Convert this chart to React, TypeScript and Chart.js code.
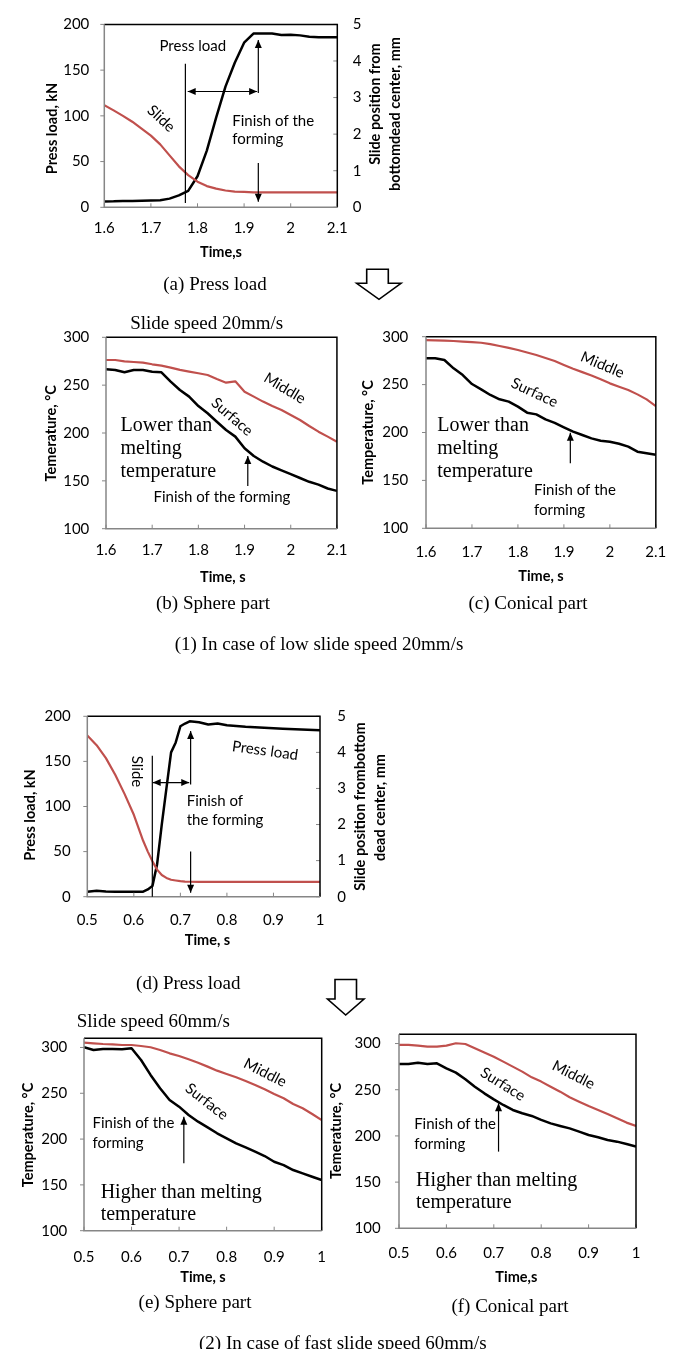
import React, { useEffect, useRef } from "react";
import { Chart, registerables } from "chart.js";

Chart.register(...registerables);

const RED = "#C0504D";
const SANS = "Lato, 'Open Sans', sans-serif";
const SERIF = "'Liberation Serif', 'Times New Roman', serif";

// ---------- data ----------
const timeLow = [1.6, 1.62, 1.64, 1.66, 1.68, 1.7, 1.72, 1.74, 1.76, 1.78, 1.8, 1.82, 1.84, 1.86, 1.88, 1.9, 1.92, 1.94, 1.96, 1.98, 2.0, 2.02, 2.04, 2.06, 2.08, 2.1];
const pressLoadA = [6.4, 6.5, 7.0, 6.8, 7.2, 7.5, 7.8, 9.5, 13, 18, 34, 62, 98, 132, 158, 180, 190, 190, 190, 188.5, 188.8, 188, 186.5, 186, 186, 186];
const slideA = [2.79, 2.65, 2.5, 2.34, 2.15, 1.96, 1.72, 1.42, 1.12, 0.88, 0.7, 0.58, 0.51, 0.46, 0.43, 0.42, 0.41, 0.41, 0.41, 0.41, 0.41, 0.41, 0.41, 0.41, 0.41, 0.41];
const middleB = [276.3, 276.3, 274.9, 274.2, 273.5, 271.8, 270.4, 268.3, 265.9, 264.1, 262.4, 260.6, 256.4, 252.6, 254.0, 243.2, 238.0, 232.8, 228.2, 224.0, 218.8, 213.6, 207.3, 201.4, 196.2, 190.9];
const surfaceB = [266.6, 265.9, 263.4, 265.9, 265.9, 264.1, 263.4, 253.7, 244.9, 238.0, 228.2, 220.6, 211.8, 203.1, 196.2, 184.0, 176, 170, 165, 161, 157, 153, 149, 146, 142, 139.5];
const middleC = [296.5, 296.2, 295.8, 295.5, 294.8, 294.3, 293.7, 292.2, 290.3, 288.3, 286.1, 283.5, 280.9, 277.8, 274.6, 270.5, 266.6, 263, 259.5, 255.5, 251.3, 247.8, 244.3, 239.8, 234.6, 227.5];
const surfaceC = [277.4, 277.4, 275.7, 267, 260, 250.6, 245, 239.2, 234.7, 232.2, 227, 220.7, 218.9, 213.7, 210.1, 205.4, 200.9, 197.4, 193.9, 191.4, 190.4, 188.3, 185.2, 180, 178.3, 176.7];

const timeD = [0.5, 0.52, 0.54, 0.56, 0.58, 0.6, 0.62, 0.63, 0.64, 0.65, 0.66, 0.67, 0.68, 0.69, 0.7, 0.71, 0.72, 0.74, 0.76, 0.78, 0.8, 0.84, 0.88, 0.92, 0.96, 1.0];
const pressLoadD = [5.5, 6.5, 5.8, 5.5, 5.5, 5.5, 5.5, 8, 12, 36, 80, 120, 160, 171, 189, 192, 194.5, 193.5, 191, 192, 190, 188.4, 187.3, 186.2, 185.5, 184.4];
const slideD = [4.47, 4.2, 3.84, 3.38, 2.85, 2.27, 1.55, 1.25, 0.98, 0.75, 0.6, 0.52, 0.47, 0.45, 0.43, 0.42, 0.415, 0.41, 0.41, 0.41, 0.41, 0.41, 0.41, 0.41, 0.41, 0.41];

const timeHigh = [0.5, 0.52, 0.54, 0.56, 0.58, 0.6, 0.62, 0.64, 0.66, 0.68, 0.7, 0.72, 0.74, 0.76, 0.78, 0.8, 0.82, 0.84, 0.86, 0.88, 0.9, 0.92, 0.94, 0.96, 0.98, 1.0];
const middleE = [305.3, 304.5, 303.8, 303.4, 302.7, 302.7, 301.6, 300.2, 297.3, 293.6, 290.7, 287.1, 283.4, 279.1, 274.7, 271.1, 267.4, 263.4, 259.1, 254.3, 249.2, 244.5, 238.3, 233.6, 227.4, 220.8];
const surfaceE = [300.2, 297.3, 298.4, 298.4, 298.0, 299.1, 286.3, 270, 255.4, 242.7, 235.4, 226.3, 219, 212.8, 206.3, 200.8, 195.3, 190.9, 186.2, 181.5, 175.3, 171.6, 166.2, 162.6, 158.9, 155.3];
const middleF = [298.5, 298.5, 297.7, 296.6, 296.6, 297.7, 300.3, 299.5, 294.8, 290.2, 285.8, 280.4, 275, 269.6, 263.4, 258.8, 253.3, 247.9, 241.8, 237.1, 232.4, 228.1, 223.8, 219.1, 214.4, 210.8];
const surfaceF = [277.9, 277.9, 279.3, 277.9, 278.6, 273.2, 268.5, 261.3, 253.3, 246.1, 239.6, 233.5, 228.1, 224.5, 221.6, 217.3, 213.6, 210.8, 208.2, 204.6, 201, 198.5, 195.6, 193.8, 191.3, 188.4];

const xTicksLow = [1.6, 1.7, 1.8, 1.9, 2.0, 2.1];
const xTicksHigh = [0.5, 0.6, 0.7, 0.8, 0.9, 1.0];
const loadTicks = [0, 50, 100, 150, 200];
const slideTicks = [0, 1, 2, 3, 4, 5];
const tempTicks = [100, 150, 200, 250, 300];

const zip = (xs: number[], ys: number[]) => xs.map((x, i) => ({ x, y: ys[i] }));

// ---------- specs ----------
type TextItem = { x: number; y: number; t: string; rot?: number; align?: CanvasTextAlign; serif?: boolean; axis?: string };
type LineItem = { x1: number; y1: number; x2: number; y2: number; head: "none" | "end" | "both"; axis?: string };
type Title = { text: string; cx: number; cy: number };
type Spec = {
  x: number; y: number; w: number; h: number;
  plot: { l: number; t: number; r: number; b: number };
  xMin: number; xMax: number; xTicks: number[];
  yMin: number; yMax: number; yTicks: number[];
  y1?: { min: number; max: number; ticks: number[]; pad: number };
  xPad: number; yPad: number;
  datasets: { data: { x: number; y: number }[]; color: string; width: number; axis: string }[];
  leftTitle: Title; rightTitles?: Title[]; bottomTitle: Title;
  texts: TextItem[]; lines: LineItem[];
};

const specA: Spec = {
  x: 0, y: 0, w: 420, h: 270,
  plot: { l: 104.3, t: 19.3, r: 337.3, b: 207.3 },
  xMin: 1.6, xMax: 2.1, xTicks: xTicksLow,
  yMin: 0, yMax: 200, yTicks: loadTicks,
  y1: { min: 0, max: 5, ticks: slideTicks, pad: 15.4 },
  xPad: 12, yPad: 15,
  datasets: [
    { data: zip(timeLow, slideA), color: RED, width: 2.2, axis: "y1" },
    { data: zip(timeLow, pressLoadA), color: "#000", width: 2.5, axis: "y" },
  ],
  leftTitle: { text: "Press load, kN", cx: 52.5, cy: 128.5 },
  rightTitles: [
    { text: "Slide position from", cx: 375, cy: 104 },
    { text: "bottomdead center, mm", cx: 395, cy: 114 },
  ],
  bottomTitle: { text: "Time,s", cx: 221, cy: 252 },
  texts: [
    { x: 1.79, y: 176, t: "Press load" },
    { x: 1.722, y: 97, t: "Slide", rot: 43 },
    { x: 1.8747, y: 94.7, t: "Finish of the", align: "left" },
    { x: 1.8747, y: 74.5, t: "forming", align: "left" },
  ],
  lines: [
    { x1: 1.774, y1: 4.6, x2: 1.774, y2: 157, head: "none" },
    { x1: 1.779, y1: 126.6, x2: 1.928, y2: 126.6, head: "both" },
    { x1: 1.9305, y1: 125, x2: 1.9305, y2: 183, head: "end" },
    { x1: 1.9305, y1: 48.5, x2: 1.9305, y2: 6, head: "end" },
  ],
};

const specB: Spec = {
  x: 0, y: 300, w: 360, h: 290,
  plot: { l: 106, t: 337.3, r: 339.3, b: 528.7 },
  xMin: 1.6, xMax: 2.1, xTicks: xTicksLow,
  yMin: 100, yMax: 300, yTicks: tempTicks,
  xPad: 12.6, yPad: 16.7,
  datasets: [
    { data: zip(timeLow, middleB), color: RED, width: 2.2, axis: "y" },
    { data: zip(timeLow, surfaceB), color: "#000", width: 2.5, axis: "y" },
  ],
  leftTitle: { text: "Temerature, °C", cx: 51, cy: 433.3 },
  bottomTitle: { text: "Time, s", cx: 222.8, cy: 577.7 },
  texts: [
    { x: 1.987, y: 246.7, t: "Middle", rot: 31 },
    { x: 1.873, y: 217, t: "Surface", rot: 41 },
    { x: 1.6315, y: 207.3, t: "Lower than", align: "left", serif: true },
    { x: 1.6315, y: 184, t: "melting", align: "left", serif: true },
    { x: 1.6315, y: 159.6, t: "temperature", align: "left", serif: true },
    { x: 1.851, y: 133.4, t: "Finish of the forming" },
  ],
  lines: [{ x1: 1.907, y1: 144.6, x2: 1.907, y2: 176, head: "end" }],
};

const specC: Spec = {
  x: 340, y: 300, w: 341, h: 290,
  plot: { l: 426, t: 336.7, r: 656.7, b: 528.3 },
  xMin: 1.6, xMax: 2.1, xTicks: xTicksLow,
  yMin: 100, yMax: 300, yTicks: tempTicks,
  xPad: 14.7, yPad: 17.7,
  datasets: [
    { data: zip(timeLow, middleC), color: RED, width: 2.2, axis: "y" },
    { data: zip(timeLow, surfaceC), color: "#000", width: 2.5, axis: "y" },
  ],
  leftTitle: { text: "Temperature, °C", cx: 368.3, cy: 432.5 },
  bottomTitle: { text: "Time, s", cx: 541, cy: 576.7 },
  texts: [
    { x: 1.984, y: 270.5, t: "Middle", rot: 23 },
    { x: 1.836, y: 241.6, t: "Surface", rot: 25 },
    { x: 1.6245, y: 206.8, t: "Lower than", align: "left", serif: true },
    { x: 1.6245, y: 183.5, t: "melting", align: "left", serif: true },
    { x: 1.6245, y: 159.2, t: "temperature", align: "left", serif: true },
    { x: 1.835, y: 139.6, t: "Finish of the", align: "left" },
    { x: 1.835, y: 119, t: "forming", align: "left" },
  ],
  lines: [{ x1: 1.914, y1: 167.9, x2: 1.914, y2: 199.8, head: "end" }],
};

const specD: Spec = {
  x: 0, y: 690, w: 420, h: 270,
  plot: { l: 87.3, t: 713.3, r: 320, b: 896.7 },
  xMin: 0.5, xMax: 1.0, xTicks: xTicksHigh,
  yMin: 0, yMax: 200, yTicks: loadTicks,
  y1: { min: 0, max: 5, ticks: slideTicks, pad: 17.3 },
  xPad: 14.6, yPad: 16.6,
  datasets: [
    { data: zip(timeD, slideD), color: RED, width: 2.2, axis: "y1" },
    { data: zip(timeD, pressLoadD), color: "#000", width: 2.5, axis: "y" },
  ],
  leftTitle: { text: "Press load, kN", cx: 30, cy: 815 },
  rightTitles: [
    { text: "Slide position frombottom", cx: 360, cy: 806.5 },
    { text: "dead center, mm", cx: 380, cy: 807.5 },
  ],
  bottomTitle: { text: "Time, s", cx: 207.5, cy: 940 },
  texts: [
    { x: 0.606, y: 138.8, t: "Slide", rot: 90 },
    { x: 0.882, y: 161.8, t: "Press load", rot: 8 },
    { x: 0.7136, y: 106.2, t: "Finish of", align: "left" },
    { x: 0.7136, y: 84.4, t: "the forming", align: "left" },
  ],
  lines: [
    { x1: 0.6397, y1: 0, x2: 0.6397, y2: 156.4, head: "none" },
    { x1: 0.6405, y1: 126.5, x2: 0.719, y2: 126.5, head: "both" },
    { x1: 0.722, y1: 124.3, x2: 0.722, y2: 183.6, head: "end" },
    { x1: 0.722, y1: 50.2, x2: 0.722, y2: 4.4, head: "end" },
  ],
};

const specE: Spec = {
  x: 0, y: 1000, w: 345, h: 290,
  plot: { l: 84, t: 1038.3, r: 321.7, b: 1230.7 },
  xMin: 0.5, xMax: 1.0, xTicks: xTicksHigh,
  yMin: 100, yMax: 310, yTicks: tempTicks,
  xPad: 17.3, yPad: 16.7,
  datasets: [
    { data: zip(timeHigh, middleE), color: RED, width: 2.2, axis: "y" },
    { data: zip(timeHigh, surfaceE), color: "#000", width: 2.5, axis: "y" },
  ],
  leftTitle: { text: "Temperature, °C", cx: 28.3, cy: 1135 },
  bottomTitle: { text: "Time, s", cx: 203, cy: 1277.3 },
  texts: [
    { x: 0.881, y: 272.4, t: "Middle", rot: 27 },
    { x: 0.758, y: 240.8, t: "Surface", rot: 38 },
    { x: 0.518, y: 217.2, t: "Finish of the", align: "left" },
    { x: 0.518, y: 195.4, t: "forming", align: "left" },
    { x: 0.535, y: 141.9, t: "Higher than melting", align: "left", serif: true },
    { x: 0.535, y: 117, t: "temperature", align: "left", serif: true },
  ],
  lines: [{ x1: 0.71, y1: 173.5, x2: 0.71, y2: 224.4, head: "end" }],
};

const specF: Spec = {
  x: 318, y: 1000, w: 363, h: 290,
  plot: { l: 399, t: 1034.3, r: 636, b: 1228.3 },
  xMin: 0.5, xMax: 1.0, xTicks: xTicksHigh,
  yMin: 100, yMax: 310, yTicks: tempTicks,
  xPad: 16.3, yPad: 18.3,
  datasets: [
    { data: zip(timeHigh, middleF), color: RED, width: 2.2, axis: "y" },
    { data: zip(timeHigh, surfaceF), color: "#000", width: 2.5, axis: "y" },
  ],
  leftTitle: { text: "Temerature, °C", cx: 336, cy: 1131 },
  bottomTitle: { text: "Time,s", cx: 516.3, cy: 1277.3 },
  texts: [
    { x: 0.868, y: 266, t: "Middle", rot: 27 },
    { x: 0.719, y: 255.9, t: "Surface", rot: 32 },
    { x: 0.532, y: 212.9, t: "Finish of the", align: "left" },
    { x: 0.532, y: 191.3, t: "forming", align: "left" },
    { x: 0.536, y: 151.5, t: "Higher than melting", align: "left", serif: true },
    { x: 0.536, y: 127.7, t: "temperature", align: "left", serif: true },
  ],
  lines: [{ x1: 0.71, y1: 183, x2: 0.71, y2: 235.3, head: "end" }],
};

const SPECS = [specA, specB, specC, specD, specE, specF];

// ---------- drawing helpers ----------
const TICK_FONT = { family: SANS, size: 15 };
const ANNO_FONT = `15px ${SANS}`;
const SERIF_FONT = `20px ${SERIF}`;
const TITLE_FONT = `bold 14.5px ${SANS}`;
const AXIS_GRAY = "#868686";

function arrowHead(ctx: CanvasRenderingContext2D, x1: number, y1: number, x2: number, y2: number) {
  const a = Math.atan2(y2 - y1, x2 - x1);
  const L = 8, W = 3.5;
  ctx.beginPath();
  ctx.moveTo(x2, y2);
  ctx.lineTo(x2 - L * Math.cos(a) + W * Math.sin(a), y2 - L * Math.sin(a) - W * Math.cos(a));
  ctx.lineTo(x2 - L * Math.cos(a) - W * Math.sin(a), y2 - L * Math.sin(a) + W * Math.cos(a));
  ctx.closePath();
  ctx.fill();
}

function decorPlugin(spec: Spec) {
  return {
    id: "decor",
    afterDatasetsDraw(chart: any) {
      const ctx: CanvasRenderingContext2D = chart.ctx;
      const a = chart.chartArea;
      const sx = chart.scales.x;
      const sy = chart.scales.y;
      const sy1 = chart.scales.y1;
      ctx.save();
      // tick marks
      ctx.strokeStyle = AXIS_GRAY;
      ctx.lineWidth = 1;
      for (const v of spec.xTicks) {
        const p = sx.getPixelForValue(v);
        ctx.beginPath(); ctx.moveTo(p, a.bottom); ctx.lineTo(p, a.bottom - 4); ctx.stroke();
      }
      for (const v of spec.yTicks) {
        const p = sy.getPixelForValue(v);
        ctx.beginPath(); ctx.moveTo(a.left - 4, p); ctx.lineTo(a.left, p); ctx.stroke();
      }
      if (sy1 && spec.y1) {
        for (const v of spec.y1.ticks) {
          const p = sy1.getPixelForValue(v);
          ctx.beginPath(); ctx.moveTo(a.right, p); ctx.lineTo(a.right - 4, p); ctx.stroke();
        }
      }
      // frame
      ctx.lineWidth = 1.5;
      ctx.strokeStyle = "#000";
      ctx.beginPath();
      ctx.moveTo(a.left, a.top); ctx.lineTo(a.right, a.top); ctx.lineTo(a.right, a.bottom);
      ctx.stroke();
      ctx.strokeStyle = AXIS_GRAY;
      ctx.beginPath();
      ctx.moveTo(a.left, a.top); ctx.lineTo(a.left, a.bottom); ctx.lineTo(a.right, a.bottom);
      ctx.stroke();

      // annotation lines
      ctx.strokeStyle = "#000";
      ctx.fillStyle = "#000";
      ctx.lineWidth = 1.2;
      for (const l of spec.lines) {
        const ys = l.axis === "y1" ? sy1 : sy;
        const x1 = sx.getPixelForValue(l.x1), y1 = ys.getPixelForValue(l.y1);
        const x2 = sx.getPixelForValue(l.x2), y2 = ys.getPixelForValue(l.y2);
        ctx.beginPath(); ctx.moveTo(x1, y1); ctx.lineTo(x2, y2); ctx.stroke();
        if (l.head === "end" || l.head === "both") arrowHead(ctx, x1, y1, x2, y2);
        if (l.head === "both") arrowHead(ctx, x2, y2, x1, y1);
      }
      // annotation texts
      ctx.textBaseline = "middle";
      for (const t of spec.texts) {
        const ys = t.axis === "y1" ? sy1 : sy;
        const px = sx.getPixelForValue(t.x), py = ys.getPixelForValue(t.y);
        ctx.save();
        ctx.font = t.serif ? SERIF_FONT : ANNO_FONT;
        ctx.textAlign = t.align || "center";
        ctx.translate(px, py);
        ctx.rotate(((t.rot || 0) * Math.PI) / 180);
        ctx.fillText(t.t, 0, 0);
        ctx.restore();
      }
      // axis titles (page coords -> canvas coords)
      ctx.font = TITLE_FONT;
      ctx.textAlign = "center";
      const vert = (ti: Title) => {
        ctx.save();
        ctx.translate(ti.cx - spec.x, ti.cy - spec.y);
        ctx.rotate(-Math.PI / 2);
        ctx.fillText(ti.text, 0, 0);
        ctx.restore();
      };
      vert(spec.leftTitle);
      (spec.rightTitles || []).forEach(vert);
      ctx.fillText(spec.bottomTitle.text, spec.bottomTitle.cx - spec.x, spec.bottomTitle.cy - spec.y);
      ctx.restore();
    },
  };
}

const fmt = (v: any) => String(Math.round(Number(v) * 10) / 10);

function buildConfig(spec: Spec): any {
  const padTop = spec.plot.t - spec.y;
  const leftW = spec.plot.l - spec.x;
  const xH = spec.y + spec.h - spec.plot.b;
  const rightW = spec.x + spec.w - spec.plot.r;
  const baseAxis = {
    grid: { display: false, drawTicks: false },
    border: { display: false },
  };
  const scales: any = {
    x: {
      ...baseAxis,
      type: "linear",
      position: "bottom",
      min: spec.xMin,
      max: spec.xMax,
      afterBuildTicks: (s: any) => { s.ticks = spec.xTicks.map((v) => ({ value: v })); },
      afterFit: (s: any) => { s.height = xH; },
      ticks: { padding: spec.xPad, font: TICK_FONT, color: "#000", autoSkip: false, maxRotation: 0, callback: fmt },
    },
    y: {
      ...baseAxis,
      type: "linear",
      position: "left",
      min: spec.yMin,
      max: spec.yMax,
      afterBuildTicks: (s: any) => { s.ticks = spec.yTicks.map((v) => ({ value: v })); },
      afterFit: (s: any) => { s.width = leftW; },
      ticks: { padding: spec.yPad, font: TICK_FONT, color: "#000", autoSkip: false, callback: fmt },
    },
  };
  if (spec.y1) {
    const y1 = spec.y1;
    scales.y1 = {
      ...baseAxis,
      type: "linear",
      position: "right",
      min: y1.min,
      max: y1.max,
      afterBuildTicks: (s: any) => { s.ticks = y1.ticks.map((v) => ({ value: v })); },
      afterFit: (s: any) => { s.width = rightW; },
      ticks: { padding: y1.pad, font: TICK_FONT, color: "#000", autoSkip: false, callback: fmt },
    };
  }
  return {
    type: "line",
    data: {
      datasets: spec.datasets.map((d) => ({
        data: d.data,
        borderColor: d.color,
        borderWidth: d.width,
        yAxisID: d.axis,
        pointRadius: 0,
        fill: false,
        tension: 0,
        borderJoinStyle: "round",
      })),
    },
    options: {
      responsive: false,
      animation: false,
      devicePixelRatio: 1,
      layout: { padding: { top: padTop, left: 0, bottom: 0, right: spec.y1 ? 0 : rightW } },
      plugins: { legend: { display: false }, tooltip: { enabled: false }, title: { display: false } },
      scales,
    },
    plugins: [decorPlugin(spec)],
  };
}

function ChartPanel({ spec }: { spec: Spec }) {
  const ref = useRef<HTMLCanvasElement>(null);
  useEffect(() => {
    const chart = new Chart(ref.current as HTMLCanvasElement, buildConfig(spec));
    return () => chart.destroy();
  }, [spec]);
  return (
    <canvas
      ref={ref}
      width={spec.w}
      height={spec.h}
      style={{ position: "absolute", left: spec.x, top: spec.y, width: spec.w, height: spec.h }}
    />
  );
}

function Caption({ text, cx, cy, size = 19 }: { text: string; cx: number; cy: number; size?: number }) {
  return (
    <div
      style={{
        position: "absolute",
        left: cx,
        top: cy,
        transform: "translate(-50%, -50%)",
        whiteSpace: "nowrap",
        fontFamily: SERIF,
        fontSize: size,
        lineHeight: 1,
        color: "#000",
      }}
    >
      {text}
    </div>
  );
}

export default function App() {
  return (
    <div style={{ position: "absolute", left: 0, top: 0, width: 681, height: 1349, background: "#fff", overflow: "hidden" }}>
      {SPECS.map((s, i) => (
        <ChartPanel key={i} spec={s} />
      ))}
      <svg width={681} height={1349} style={{ position: "absolute", left: 0, top: 0, pointerEvents: "none" }}>
        <polygon
          points="366.7,269.3 388.3,269.3 388.3,283.3 401,283.3 379,299.3 356.7,283.3 366.7,283.3"
          fill="#fff"
          stroke="#000"
          strokeWidth={1.6}
        />
        <polygon
          points="335,979.5 356.5,979.5 356.5,999 364,999 345.7,1015 327.5,999 335,999"
          fill="#fff"
          stroke="#000"
          strokeWidth={1.6}
        />
      </svg>
      <Caption text="(a) Press load" cx={215} cy={283} />
      <Caption text="Slide speed 20mm/s" cx={206.7} cy={321.7} />
      <Caption text="(b) Sphere part" cx={213} cy={602} />
      <Caption text="(c) Conical part" cx={528} cy={602} />
      <Caption text="(1) In case of low slide speed 20mm/s" cx={319} cy={643.3} />
      <Caption text="(d) Press load" cx={188.3} cy={981.7} />
      <Caption text="Slide speed 60mm/s" cx={153.3} cy={1020} />
      <Caption text="(e) Sphere part" cx={195} cy={1300.7} />
      <Caption text="(f) Conical part" cx={510} cy={1305} />
      <Caption text="(2) In case of fast slide speed 60mm/s" cx={342.8} cy={1341.7} />
    </div>
  );
}
